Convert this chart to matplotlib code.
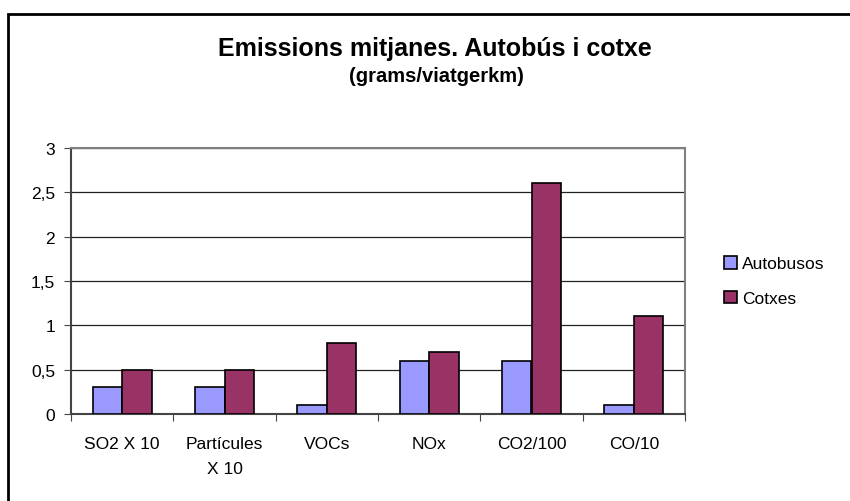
import matplotlib.pyplot as plt
from matplotlib.patches import Rectangle
import numpy as np

plt.rcParams['font.family'] = ['Liberation Sans', 'DejaVu Sans']

categories = ["SO2 X 10", "Partícules\nX 10", "VOCs", "NOx", "CO2/100", "CO/10"]
autobusos = [0.3, 0.3, 0.1, 0.6, 0.6, 0.1]
cotxes = [0.5, 0.5, 0.8, 0.7, 2.6, 1.1]
yticks = [0, 0.5, 1, 1.5, 2, 2.5, 3]
ytick_labels = ["0", "0,5", "1", "1,5", "2", "2,5", "3"]

W, H = 850, 502
fig = plt.figure(figsize=(W / 100, H / 100), dpi=100)

# outer chart border (only left and top edges are visible in the crop)
fig.add_artist(Rectangle((8 / W, -0.2), 1.5, (H - 15) / H + 0.2,
                         transform=fig.transFigure, fill=False,
                         ec="black", lw=2))

ax = fig.add_axes([71 / W, 1 - 415 / H, (685 - 71) / W, (415 - 149) / H])

x = np.arange(len(categories)) + 0.5
w = 0.287
ax.bar(x - w / 2, autobusos, w, color="#9999FF", edgecolor="black", lw=1.2,
       label="Autobusos", zorder=3)
ax.bar(x + w / 2, cotxes, w, color="#993366", edgecolor="black", lw=1.2,
       label="Cotxes", zorder=3)

ax.set_xlim(0, len(categories))
ax.set_ylim(0, 3)
ax.set_yticks(yticks)
ax.set_yticklabels(ytick_labels, fontsize=12.5)
ax.yaxis.grid(True, color="#222222", lw=0.9)
ax.set_axisbelow(True)

# tick marks between categories, labels at centres
ax.set_xticks(np.arange(len(categories) + 1))
ax.set_xticklabels([])
ax.set_xticks(x, minor=True)
ax.set_xticklabels(categories, minor=True, fontsize=12.5, linespacing=1.9)
ax.tick_params(axis="x", which="minor", length=0, pad=15.5)
ax.tick_params(axis="x", which="major", length=5, color="#444444")
ax.tick_params(axis="y", length=5, color="#444444", pad=6.5)

for side in ["left", "bottom"]:
    ax.spines[side].set_color("#444444")
    ax.spines[side].set_linewidth(1.5)
for side in ["top", "right"]:
    ax.spines[side].set_color("#808080")
    ax.spines[side].set_linewidth(1.5)

fig.text(435 / W, 1 - 49 / H, "Emissions mitjanes. Autobús i cotxe",
         ha="center", va="center", fontsize=18, fontweight="bold")
fig.text(436 / W, 1 - 77 / H, "(grams/viatgerkm)",
         ha="center", va="center", fontsize=14.5, fontweight="bold")

ax.legend(loc="center left", bbox_to_anchor=(708 / W, 1 - 282 / H),
          bbox_transform=fig.transFigure, frameon=False, fontsize=12.5,
          handlelength=0.75, handleheight=0.75, handletextpad=0.3,
          labelspacing=1.1)

fig.savefig("out.png", dpi=100)
